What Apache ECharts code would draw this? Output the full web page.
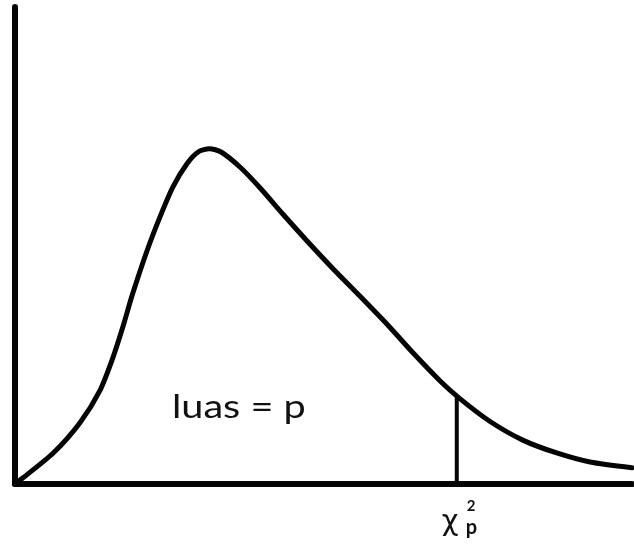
<!DOCTYPE html>
<html>
<head>
<meta charset="utf-8">
<script src="https://cdn.jsdelivr.net/npm/echarts@6/dist/echarts.min.js"></script>
<style>
  html, body { margin: 0; padding: 0; background: #fff; }
  #chart { width: 634px; height: 547px; }
</style>
</head>
<body>
<div id="chart"></div>
<script>
// Chi-square density sketch: x in arbitrary units (0..100), y as relative density (0..100)
const curveX = [0, 1.3, 6.2, 10.5, 13.8, 15.9, 17.5, 19.0, 21.4, 23.5, 25.6, 27.9, 29.8, 31.5, 33.4, 36.5, 39.7, 43.4, 47.3, 51.5, 55.9, 60.3, 64.5, 68.9, 72.1, 77.0, 82.3, 87.8, 93.2, 100];
const curveY = [0, 1.3, 6.5, 12.8, 19.7, 26.6, 33.0, 39.6, 48.9, 56.0, 62.3, 67.2, 69.7, 70.3, 69.6, 66.4, 62.1, 56.6, 51.0, 45.2, 39.4, 33.5, 27.5, 21.6, 17.9, 13.1, 9.2, 6.5, 4.6, 3.4];

// Critical value and the density height where the cut line meets the curve
const critX = 71.6;
const critY = 18.4;

const areaLabel = 'luas = p';
const critSymbol = 'χ';
const critSup = '2';
const critSub = 'p';

const chart = echarts.init(document.getElementById('chart'), null, { renderer: 'canvas' });

const ink = '#050505';
const fontFamily = 'Lato, "Open Sans", sans-serif';

chart.setOption({
  animation: false,
  backgroundColor: '#ffffff',
  grid: { left: 15, right: 2, top: 7, bottom: 63 },
  xAxis: {
    type: 'value', min: 0, max: 100,
    axisLine: { show: true, onZero: false, lineStyle: { color: ink, width: 6 } },
    axisTick: { show: false }, axisLabel: { show: false }, splitLine: { show: false }
  },
  yAxis: {
    type: 'value', min: 0, max: 100,
    axisLine: { show: true, onZero: false, lineStyle: { color: ink, width: 6 } },
    axisTick: { show: false }, axisLabel: { show: false }, splitLine: { show: false }
  },
  series: [
    {
      type: 'line',
      data: curveX.map((x, i) => [x, curveY[i]]),
      smooth: 0.25,
      showSymbol: false,
      clip: false,
      lineStyle: { color: ink, width: 5, cap: 'round', join: 'round' }
    },
    {
      type: 'line',
      data: [[critX, 0], [critX, critY]],
      showSymbol: false,
      lineStyle: { color: ink, width: 4 }
    }
  ]
});

// Text annotations anchored to the critical value position
const base = chart.convertToPixel({ gridIndex: 0 }, [critX, 0]);
chart.setOption({
  graphic: [
    {
      type: 'text', x: 172, y: 391, scaleX: 1.2,
      style: { text: areaLabel, font: '33px ' + fontFamily, fill: '#111' }
    },
    {
      type: 'text', x: base[0] - 15, y: base[1] + 24,
      style: { text: critSymbol, font: '29px "DejaVu Sans", sans-serif', fill: '#111' }
    },
    {
      type: 'text', x: base[0] + 10, y: base[1] + 15,
      style: { text: critSup, font: 'bold 15px ' + fontFamily, fill: '#111' }
    },
    {
      type: 'text', x: base[0] + 9, y: base[1] + 34,
      style: { text: critSub, font: 'bold 20px ' + fontFamily, fill: '#111' }
    }
  ]
});
</script>
</body>
</html>
